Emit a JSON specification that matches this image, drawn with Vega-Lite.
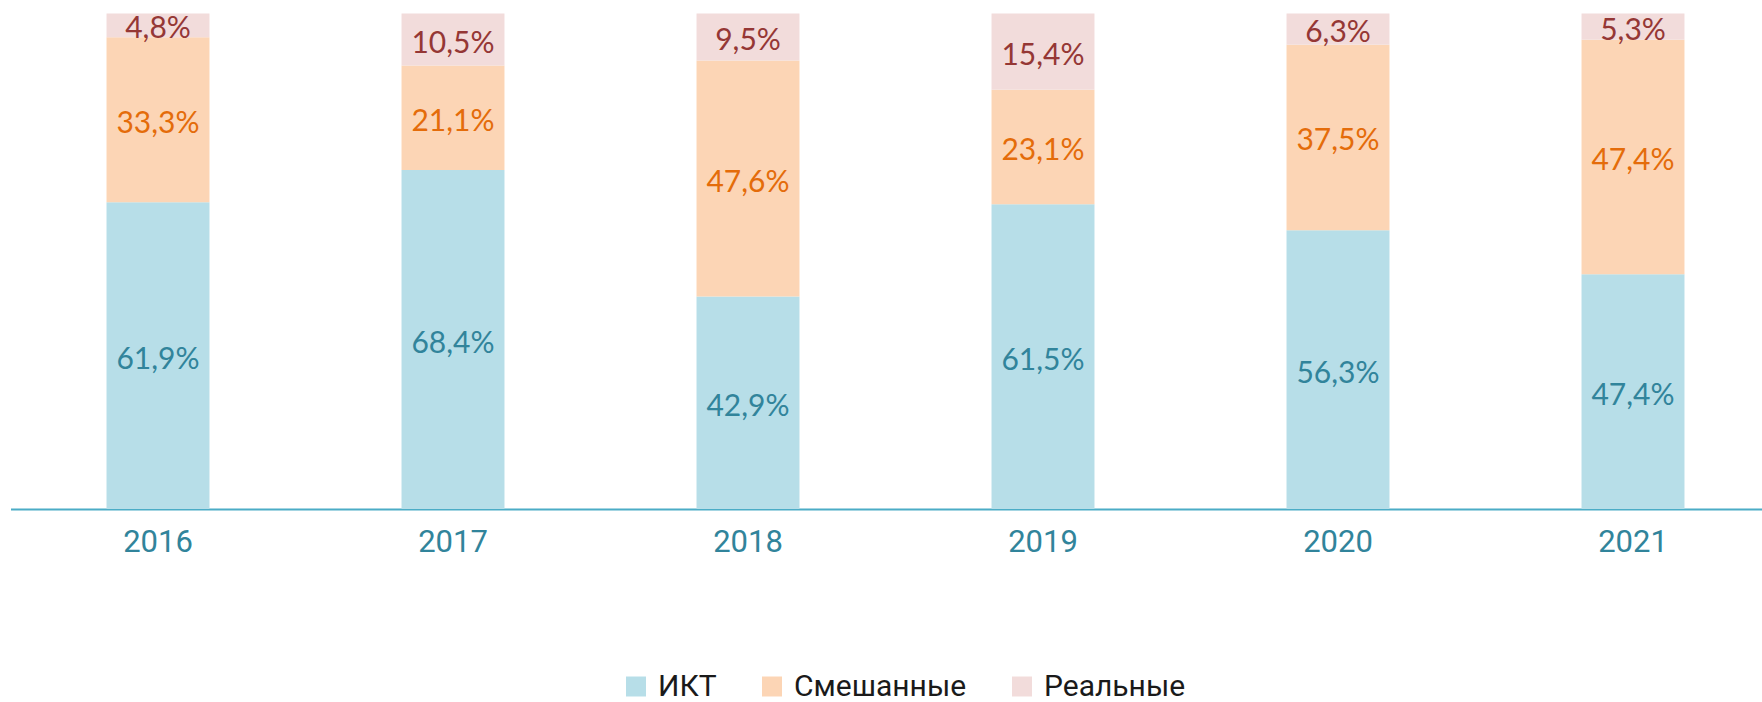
{
  "$schema": "https://vega.github.io/schema/vega-lite/v6.json",
  "width": 1751.5,
  "height": 495.5,
  "autosize": "none",
  "padding": {"left": 10.5, "top": 13.5, "right": 0, "bottom": 193},
  "background": "white",
  "data": {
    "values": [
      {"year": "2016", "type": "ИКТ", "k": 1, "share": 61.9},
      {"year": "2016", "type": "Смешанные", "k": 2, "share": 33.3},
      {"year": "2016", "type": "Реальные", "k": 3, "share": 4.8},
      {"year": "2017", "type": "ИКТ", "k": 1, "share": 68.4},
      {"year": "2017", "type": "Смешанные", "k": 2, "share": 21.1},
      {"year": "2017", "type": "Реальные", "k": 3, "share": 10.5},
      {"year": "2018", "type": "ИКТ", "k": 1, "share": 42.9},
      {"year": "2018", "type": "Смешанные", "k": 2, "share": 47.6},
      {"year": "2018", "type": "Реальные", "k": 3, "share": 9.5},
      {"year": "2019", "type": "ИКТ", "k": 1, "share": 61.5},
      {"year": "2019", "type": "Смешанные", "k": 2, "share": 23.1},
      {"year": "2019", "type": "Реальные", "k": 3, "share": 15.4},
      {"year": "2020", "type": "ИКТ", "k": 1, "share": 56.3},
      {"year": "2020", "type": "Смешанные", "k": 2, "share": 37.5},
      {"year": "2020", "type": "Реальные", "k": 3, "share": 6.3},
      {"year": "2021", "type": "ИКТ", "k": 1, "share": 47.4},
      {"year": "2021", "type": "Смешанные", "k": 2, "share": 47.4},
      {"year": "2021", "type": "Реальные", "k": 3, "share": 5.3}
    ]
  },
  "transform": [
    {"stack": "share", "groupby": ["year"], "sort": [{"field": "k", "order": "ascending"}], "offset": "normalize", "as": ["y0", "y1"]},
    {"calculate": "(datum.y0 + datum.y1) / 2", "as": "ymid"},
    {"calculate": "replace(format(datum.share, '.1f'), '.', ',') + '%'", "as": "label"}
  ],
  "encoding": {
    "x": {
      "field": "year",
      "type": "ordinal",
      "scale": {"range": [0, 1770], "paddingInner": 0.651, "paddingOuter": 0.3255},
      "axis": {
        "title": null,
        "labelAngle": 0,
        "ticks": false,
        "grid": false,
        "domainColor": "#4BACC6",
        "domainWidth": 2,
        "labelColor": "#31849B",
        "labelFont": "Roboto",
        "labelFontSize": 31,
        "labelPadding": 18
      }
    }
  },
  "layer": [
    {
      "mark": {"type": "bar"},
      "encoding": {
        "y": {"field": "y0", "type": "quantitative", "scale": {"domain": [0, 1], "nice": false}, "axis": null},
        "y2": {"field": "y1"},
        "color": {
          "field": "type",
          "type": "nominal",
          "sort": ["ИКТ", "Смешанные", "Реальные"],
          "scale": {"domain": ["ИКТ", "Смешанные", "Реальные"], "range": ["#B7DEE8", "#FCD5B5", "#F2DCDB"]},
          "legend": {
            "title": null,
            "orient": "none",
            "direction": "horizontal",
            "legendX": 610.5,
            "legendY": 658,
            "symbolType": "square",
            "symbolSize": 400,
            "symbolStrokeWidth": 0,
            "labelFont": "Roboto",
            "labelFontSize": 30,
            "labelColor": "#1a1a1a",
            "labelOffset": 7,
            "labelLimit": 500,
            "columnPadding": 40
          }
        }
      }
    },
    {
      "mark": {"type": "text", "font": "Lato", "fontSize": 30, "baseline": "middle", "align": "center", "dy": 4},
      "encoding": {
        "y": {"field": "ymid", "type": "quantitative"},
        "text": {"field": "label"},
        "color": {
          "field": "type",
          "type": "nominal",
          "scale": {"domain": ["ИКТ", "Смешанные", "Реальные"], "range": ["#31849B", "#E46C0A", "#953735"]},
          "legend": null
        }
      }
    }
  ],
  "resolve": {"scale": {"color": "independent"}},
  "config": {"view": {"stroke": null}}
}
